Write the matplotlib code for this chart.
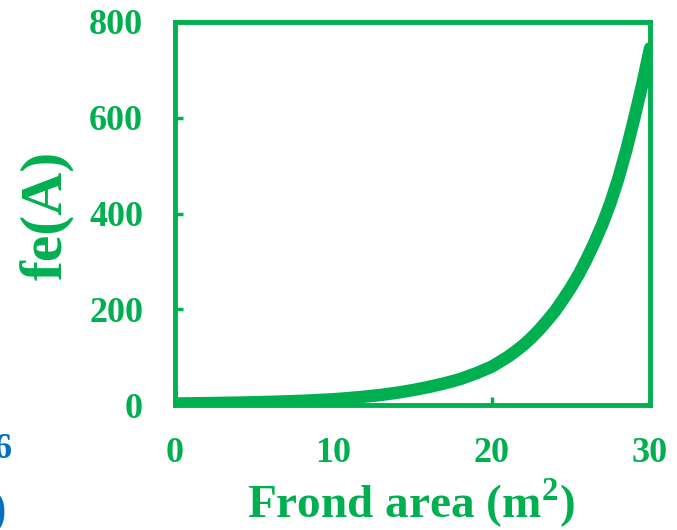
import numpy as np
import matplotlib
matplotlib.use("Agg")
import matplotlib.pyplot as plt

# values
frond_area = [0, 1, 2, 3, 4, 5, 6, 7, 8, 9, 10, 11, 12, 13, 14, 15, 16, 17, 18, 19,
              20, 20.5, 21, 21.5, 22, 22.5, 23, 23.5, 24, 24.5, 25, 25.5,
              26, 26.5, 27, 27.5, 28, 28.5, 29, 29.5, 30]
fe_values = [3, 3.4, 3.9, 4.4, 5, 5.7, 6.5, 7.5, 8.7, 10.2, 12, 14.5, 17.5, 21, 25.5, 31, 37.5, 45, 54, 66,
             80, 90, 100, 112, 125, 140, 157, 176, 196, 220, 245, 273,
             305, 340, 378, 422, 473, 532, 598, 668, 745]
x_ticks = [0, 10, 20, 30]
y_ticks = [0, 200, 400, 600, 800]

green = '#00B050'
blue = '#0070C0'

plt.rcParams['font.family'] = ['Liberation Serif', 'DejaVu Serif']
plt.rcParams['font.weight'] = 'bold'
plt.rcParams['mathtext.fontset'] = 'custom'
plt.rcParams['mathtext.rm'] = 'Liberation Serif:bold'
plt.rcParams['mathtext.bf'] = 'Liberation Serif:bold'

W, H = 677, 530
fig = plt.figure(figsize=(W / 100, H / 100), dpi=100)
ax = fig.add_axes([175 / W, 1 - 405 / H, 475 / W, 383 / H])

ax.plot(frond_area, fe_values, color=green, lw=9, solid_capstyle='round',
        solid_joinstyle='round')

ax.set_xlim(0, 30)
ax.set_ylim(0, 800)
ax.set_xticks(x_ticks)
ax.set_yticks(y_ticks)
for s in ax.spines.values():
    s.set_color(green)
    s.set_linewidth(3.5)
ax.tick_params(direction='in', length=6, width=2.5, color=green,
               labelcolor=green, labelsize=26, pad=23)
for lab in ax.get_xticklabels() + ax.get_yticklabels():
    lab.set_fontweight('bold')

fig.text(411 / W, 1 - 503 / H, r'Frond area (m$^{\mathbf{2}}$)', color=green,
         fontsize=34, fontweight='bold', ha='center', va='center')
fig.text(48 / W, 1 - 215 / H, 'fe(A)', color=green, fontsize=43,
         fontweight='bold', rotation=90, ha='center', va='center')

# cut-off pieces of the neighbouring panel at the left edge
fig.text(12 / W, 1 - 450 / H, '6', color=blue, fontsize=26,
         fontweight='bold', ha='right', va='center')
fig.text(6 / W, 1 - 512 / H, ')', color=blue, fontsize=36,
         fontweight='bold', ha='right', va='center')

fig.savefig('out.png', dpi=100)
